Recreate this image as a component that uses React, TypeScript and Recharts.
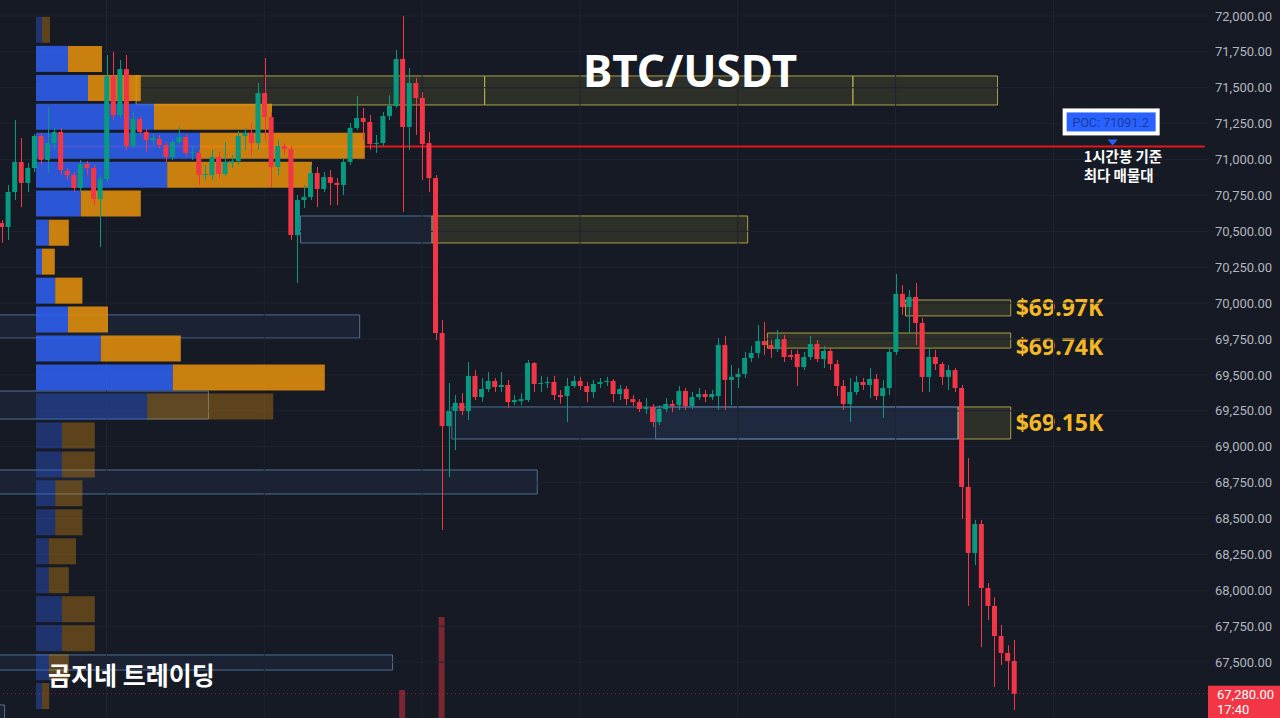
import React from 'react';
import {
  ComposedChart,
  Bar,
  Cell,
  XAxis,
  YAxis,
  ReferenceArea,
  ReferenceLine,
  ReferenceDot,
} from 'recharts';

// BTC/USDT candles, [open, high, low, close]
const RALLY = [
  [70558, 70579, 70419, 70530], [70530, 70823, 70440, 70774], [70774, 71275, 70718, 70983], [70983, 71150, 70669, 70837],
  [70837, 70976, 70774, 70941], [70941, 71178, 70913, 71164], [71164, 71185, 70962, 70997], [70997, 71366, 70906, 71115],
  [71115, 71220, 71067, 71192], [71192, 71220, 70892, 70927], [70920, 70941, 70858, 70892], [70892, 70913, 70774, 70802],
  [70802, 70997, 70774, 70969], [70969, 70990, 70892, 70941], [70941, 70962, 70683, 70725], [70725, 70892, 70391, 70864],
  [70864, 71728, 70844, 71582], [71582, 71749, 71275, 71310], [71310, 71693, 71289, 71630], [71630, 71728, 71067, 71094],
  [71094, 71331, 71080, 71282], [71282, 71296, 71171, 71192], [71192, 71213, 71053, 71136], [71136, 71178, 71101, 71150],
  [71143, 71171, 71080, 71101], [71101, 71122, 70983, 71018], [71018, 71143, 70997, 71122], [71122, 71227, 71108, 71157],
  [71157, 71171, 71025, 71046], [71046, 71094, 70997, 71053], [71046, 71067, 70823, 70892], [70892, 70962, 70858, 70899],
  [70892, 71067, 70858, 71018], [71018, 71053, 70871, 70899], [70899, 71122, 70885, 70983], [70976, 71032, 70941, 70990],
  [70990, 71199, 70962, 71164], [71164, 71220, 71067, 71185], [71185, 71254, 71032, 71115], [71115, 71533, 71067, 71463],
  [71463, 71707, 71136, 71296], [71296, 71331, 70809, 70948], [70948, 71136, 70892, 71094], [71094, 71115, 71032, 71073],
  [71074, 71094, 70440, 70474], [70474, 70753, 70140, 70718], [70718, 70823, 70663, 70739], [70739, 70962, 70718, 70906],
  [70906, 70948, 70669, 70795], [70795, 70913, 70774, 70878], [70878, 70927, 70683, 70837], [70837, 70871, 70683, 70823],
  [70823, 71011, 70753, 70983], [70983, 71254, 70962, 71220], [71220, 71443, 71206, 71289], [71289, 71359, 71136, 71262],
  [71262, 71310, 71067, 71108], [71108, 71171, 71046, 71115], [71115, 71331, 71094, 71303], [71303, 71449, 71275, 71373],
  [71373, 71763, 71359, 71700], [71700, 72000, 70635, 71227], [71227, 71637, 71067, 71533], [71533, 71568, 71171, 71429],
  [71429, 71470, 70858, 71108], [71115, 71192, 70774, 70871], [70871, 70892, 69743, 69792],
];

const RANGE = [
  [69792, 69883, 68420, 69144], [69144, 69444, 68789, 69249], [69249, 69360, 68977, 69305], [69305, 69374, 69221, 69249],
  [69249, 69590, 69186, 69493], [69493, 69534, 69325, 69346], [69346, 69479, 69312, 69402], [69402, 69520, 69381, 69458],
  [69458, 69479, 69381, 69416], [69416, 69520, 69381, 69430], [69430, 69465, 69270, 69311], [69311, 69360, 69290, 69325],
  [69318, 69374, 69290, 69332], [69325, 69604, 69311, 69583], [69583, 69590, 69381, 69437], [69437, 69493, 69381, 69444],
  [69444, 69486, 69409, 69451], [69451, 69493, 69325, 69360], [69360, 69395, 69300, 69346], [69353, 69479, 69172, 69423],
  [69423, 69493, 69409, 69458], [69458, 69486, 69395, 69423], [69423, 69451, 69311, 69381], [69381, 69465, 69339, 69437],
  [69437, 69479, 69409, 69451], [69451, 69486, 69423, 69458], [69458, 69472, 69311, 69367], [69367, 69430, 69325, 69402],
  [69402, 69423, 69290, 69332], [69332, 69360, 69284, 69311], [69311, 69332, 69242, 69263], [69263, 69339, 69228, 69277],
  [69277, 69298, 69137, 69172], [69172, 69290, 69151, 69263], [69263, 69339, 69242, 69298], [69298, 69325, 69242, 69284],
  [69291, 69423, 69256, 69388], [69388, 69409, 69256, 69284], [69284, 69381, 69263, 69346], [69346, 69409, 69325, 69367],
  [69367, 69395, 69311, 69346], [69346, 69395, 69325, 69367], [69353, 69757, 69256, 69708],
];

const RETEST = [
  [69708, 69771, 69256, 69465], [69465, 69569, 69290, 69486], [69486, 69548, 69409, 69507], [69507, 69660, 69479, 69618],
  [69618, 69701, 69590, 69653], [69653, 69848, 69618, 69736], [69736, 69869, 69639, 69708], [69708, 69743, 69618, 69680],
  [69680, 69813, 69660, 69750], [69750, 69778, 69590, 69625], [69639, 69674, 69604, 69625], [69646, 69674, 69423, 69555],
  [69555, 69660, 69534, 69625], [69625, 69771, 69604, 69715], [69715, 69743, 69590, 69611], [69611, 69701, 69548, 69667],
  [69667, 69688, 69534, 69576], [69576, 69604, 69353, 69423], [69423, 69465, 69256, 69298], [69298, 69479, 69172, 69381],
  [69381, 69493, 69360, 69451], [69451, 69479, 69395, 69430], [69430, 69548, 69339, 69472], [69472, 69507, 69325, 69353],
  [69353, 69465, 69200, 69409], [69409, 69688, 69360, 69660], [69660, 70203, 69639, 70064], [70064, 70126, 69918, 69973],
  [69973, 70092, 69792, 70043], [70043, 70140, 69708, 69862], [69862, 69897, 69381, 69486], [69486, 69688, 69381, 69625],
  [69625, 69674, 69534, 69576], [69576, 69590, 69430, 69486], [69486, 69569, 69395, 69534], [69534, 69548, 69381, 69409],
  [69409, 69430, 68497, 68720],
];

const SELLOFF = [
  [68720, 68922, 67891, 68260], [68260, 68490, 68176, 68462], [68462, 68490, 67605, 68016], [68016, 68051, 67793, 67891],
  [67891, 67953, 67327, 67682], [67682, 67759, 67480, 67564], [67564, 67619, 67306, 67508], [67508, 67654, 67167, 67280],
];

// only the two volume bars that reach into view
const VOLUME = [
  { t: 61, v: 390 },
  { t: 67, v: 1407 },
];

const SLOTS = 184;
const PRICE_DOMAIN = [67111, 72111];
const TICKS = [
  67500, 67750, 68000, 68250, 68500, 68750, 69000, 69250, 69500, 69750,
  70000, 70250, 70500, 70750, 71000, 71250, 71500, 71750, 72000,
];
const TIME_GRID = [16, 40, 64, 88, 112, 136, 160];
const POC = 71091.2;
const POC_AT = 169;
const LAST_PRICE = 67280;
const LAST_TIME = '17:40';

// volume profile rows (price centre, buy, sell)
const PROFILE_PRICE = [
  71900, 71698, 71496, 71295, 71093, 70891, 70690, 70488, 70286, 70084, 69883, 69681,
  69479, 69278, 69076, 68874, 68673, 68471, 68269, 68067, 67866, 67664, 67462, 67261,
];
const PROFILE_BUY = [15, 80, 130, 295, 410, 328, 112, 32, 15, 48, 80, 162, 342, 278, 65, 65, 48, 48, 32, 32, 65, 65, 32, 15];
const PROFILE_SELL = [20, 85, 132, 295, 412, 362, 150, 50, 32, 68, 100, 200, 380, 315, 82, 82, 68, 68, 68, 50, 82, 82, 50, 18];
const VALUE_AREA = { high: 71800, low: 69380 };

// supply / demand boxes
const ZONES = [
  { x1: 21, x2: 73, top: 71582, bottom: 71380, kind: 'y' },
  { x1: 74, x2: 129, top: 71582, bottom: 71380, kind: 'y' },
  { x1: 130, x2: 151, top: 71582, bottom: 71380, kind: 'y' },
  { x1: 46, x2: 65, top: 70607, bottom: 70419, kind: 'b' },
  { x1: 66, x2: 113, top: 70607, bottom: 70419, kind: 'y' },
  { x1: 0, x2: 54, top: 69918, bottom: 69757, kind: 'b' },
  { x1: 0, x2: 31, top: 69388, bottom: 69193, kind: 'b' },
  { x1: 0, x2: 81, top: 68838, bottom: 68671, kind: 'b' },
  { x1: 0, x2: 59, top: 67550, bottom: 67445, kind: 'b' },
  { x1: 0, x2: 0, top: 67202, bottom: 67100, kind: 'b' },
  { x1: 69, x2: 145, top: 69277, bottom: 69054, kind: 'b' },
  { x1: 100, x2: 145, top: 69277, bottom: 69054, kind: 'b' },
  { x1: 138, x2: 153, top: 70022, bottom: 69911, kind: 'y', label: '$69.97K', dy: 0 },
  { x1: 117, x2: 153, top: 69792, bottom: 69687, kind: 'y', label: '$69.74K', dy: 6 },
  { x1: 146, x2: 153, top: 69277, bottom: 69054, kind: 'y', label: '$69.15K', dy: 0 },
];

const BG = '#161a25';
const GRID = '#1f2431';
const UP = '#089981';
const DOWN = '#f23645';
const GOLD = '#f5b825';

const candles = [...RALLY, ...RANGE, ...RETEST, ...SELLOFF];
const data = Array.from({ length: SLOTS }, (_, t) => {
  const row: any = { t };
  const k = candles[t];
  if (k) {
    const [o, h, l, c] = k;
    Object.assign(row, { o, h, l, c, range: [l, h] });
  }
  const v = VOLUME.find((d) => d.t === t);
  if (v) row.vol = v.v;
  return row;
});

const profile = PROFILE_PRICE.map((price, i) => ({
  price,
  buy: PROFILE_BUY[i],
  sell: PROFILE_SELL[i],
  dim: price > VALUE_AREA.high || price < VALUE_AREA.low,
}));

const fmt = (v: number) => v.toLocaleString('en-US', { minimumFractionDigits: 2, maximumFractionDigits: 2 });

const Candle = (props: any) => {
  const { x, y, width, height, payload } = props;
  if (!payload || payload.o == null) return null;
  const { o, h, l, c } = payload;
  const top = Math.min(y, y + height);
  const span = Math.abs(height);
  const k = span / (h - l);
  const yo = top + (h - o) * k;
  const yc = top + (h - c) * k;
  const color = c >= o ? UP : DOWN;
  const cx = Math.round(x + width / 2) + 0.5;
  return (
    <g>
      <line x1={cx} x2={cx} y1={top} y2={top + span} stroke={color} strokeWidth={1} />
      <rect x={x} y={Math.min(yo, yc)} width={width} height={Math.max(Math.abs(yc - yo), 1)} fill={color} />
    </g>
  );
};

const ZoneLabel = ({ viewBox, text, dy }: any) => {
  if (!viewBox) return null;
  return (
    <text
      x={viewBox.x + viewBox.width + 5}
      y={viewBox.y + viewBox.height / 2 + dy + 8}
      fill={GOLD}
      fontSize={23}
      fontWeight={700}
      fontFamily="'Noto Sans', sans-serif"
    >
      {text}
    </text>
  );
};

const PocTag = ({ cx, cy }: any) => (
  <g>
    <rect x={cx - 50} y={cy - 38} width={97} height={27} fill="#ffffff" />
    <rect x={cx - 46} y={cy - 34} width={89} height={19} fill="#2962ff" />
    <text x={cx - 2} y={cy - 19} textAnchor="middle" fontSize={12.5} fill="#1a3c9c" fontFamily="Roboto, sans-serif">
      POC: 71091.2
    </text>
    <path d={`M${cx - 5},${cy - 7} L${cx + 5},${cy - 7} L${cx},${cy - 1} Z`} fill="#2962ff" />
    <text x={cx - 29} y={cy + 16} fontSize={14.5} fontWeight={700} fill="#ffffff" fontFamily="'Noto Sans CJK KR', sans-serif">
      1시간봉 기준
    </text>
    <text x={cx - 29} y={cy + 35} fontSize={14.5} fontWeight={700} fill="#ffffff" fontFamily="'Noto Sans CJK KR', sans-serif">
      최다 매물대
    </text>
  </g>
);

const PriceTag = ({ viewBox }: any) => {
  if (!viewBox) return null;
  const x = viewBox.x + viewBox.width;
  const y = viewBox.y;
  return (
    <g>
      <rect x={x} y={y - 8} width={72} height={40} fill={DOWN} />
      <text x={x + 9} y={y + 5} fontSize={13} fill="#ffffff" fontFamily="Roboto, sans-serif">{fmt(LAST_PRICE)}</text>
      <text x={x + 9} y={y + 20} fontSize={13} fill="#ffffff" fontFamily="Roboto, sans-serif">{LAST_TIME}</text>
    </g>
  );
};

const layer: React.CSSProperties = { position: 'absolute', left: -2, top: 0 };

export default function App() {
  return (
    <div style={{ position: 'fixed', left: 0, top: 0, width: 1280, height: 718, overflow: 'hidden', background: BG }}>
      {/* grid, zones, POC line, volume */}
      <div style={layer}>
        <ComposedChart width={1282} height={718} data={data} margin={{ top: 0, right: 0, bottom: 0, left: 0 }}>
          <XAxis dataKey="t" type="category" hide />
          <YAxis orientation="right" width={72} type="number" domain={PRICE_DOMAIN} allowDataOverflow ticks={TICKS} tick={false} axisLine={false} tickLine={false} />
          <YAxis yAxisId="vol" hide type="number" domain={[0, 10000]} />
          {TICKS.map((v) => (
            <ReferenceLine key={`h${v}`} y={v} stroke={GRID} strokeWidth={1} />
          ))}
          {TIME_GRID.map((t) => (
            <ReferenceLine key={`v${t}`} x={t} stroke={GRID} strokeWidth={1} />
          ))}
          {ZONES.map((z, i) => (
            <ReferenceArea
              key={`z${i}`}
              x1={z.x1}
              x2={z.x2}
              y1={z.bottom}
              y2={z.top}
              fill={z.kind === 'y' ? '#c8be46' : '#466eb4'}
              fillOpacity={z.kind === 'y' ? 0.13 : 0.1}
              stroke={z.kind === 'y' ? '#b8ad48' : '#56789e'}
              strokeOpacity={0.9}
              strokeWidth={1}
              ifOverflow="visible"
              label={z.label ? (p: any) => <ZoneLabel viewBox={p.viewBox} text={z.label} dy={z.dy} /> : undefined}
            />
          ))}
          <ReferenceLine segment={[{ x: 7, y: POC }, { x: SLOTS - 1, y: POC }]} stroke="#e3161c" strokeWidth={2} />
          <Bar yAxisId="vol" dataKey="vol" barSize={6} fill="#f23645" fillOpacity={0.45} isAnimationActive={false} />
        </ComposedChart>
      </div>

      {/* volume profile */}
      <div style={{ position: 'absolute', left: 0, top: 0 }}>
        <ComposedChart layout="vertical" width={1208} height={718} data={profile} margin={{ top: 0, right: 0, bottom: 0, left: 36 }}>
          <XAxis type="number" domain={[0, 2930]} hide />
          <YAxis type="number" dataKey="price" domain={PRICE_DOMAIN} allowDataOverflow reversed hide />
          <Bar dataKey="buy" stackId="p" barSize={26} fill="#2e62f5" isAnimationActive={false}>
            {profile.map((r, i) => (
              <Cell key={`b${i}`} fill="#2e62f5" fillOpacity={r.dim ? 0.36 : 0.86} />
            ))}
          </Bar>
          <Bar dataKey="sell" stackId="p" barSize={26} fill="#e7920a" isAnimationActive={false}>
            {profile.map((r, i) => (
              <Cell key={`s${i}`} fill="#e7920a" fillOpacity={r.dim ? 0.34 : 0.86} />
            ))}
          </Bar>
        </ComposedChart>
      </div>

      {/* candles, axis, tags */}
      <div style={layer}>
        <ComposedChart width={1282} height={718} data={data} margin={{ top: 0, right: 0, bottom: 0, left: 0 }}>
          <XAxis dataKey="t" type="category" hide />
          <YAxis
            orientation="right"
            width={72}
            type="number"
            domain={PRICE_DOMAIN}
            allowDataOverflow
            ticks={TICKS}
            tickFormatter={fmt}
            tick={{ fill: '#b2b5be', fontSize: 13, fontFamily: 'Roboto, sans-serif' }}
            axisLine={false}
            tickLine={false}
            tickSize={0}
            tickMargin={7}
          />
          <ReferenceLine
            y={LAST_PRICE}
            stroke={DOWN}
            strokeOpacity={0.55}
            strokeDasharray="1 3"
            label={(p: any) => <PriceTag viewBox={p.viewBox} />}
          />
          <Bar dataKey="range" barSize={5} shape={(p: any) => <Candle {...p} />} isAnimationActive={false} />
          <ReferenceDot x={POC_AT} y={POC} r={0} shape={(p: any) => <PocTag {...p} />} />
        </ComposedChart>
      </div>

      <svg width={1280} height={718} style={{ position: 'absolute', left: 0, top: 0, pointerEvents: 'none' }}>
        <text x={690} y={87} textAnchor="middle" fill="#ffffff" fontSize={44} fontWeight={700} fontFamily="'Noto Sans', sans-serif">
          BTC/USDT
        </text>
        <text x={48} y={685} fill="#ffffff" fontSize={25} fontWeight={700} fontFamily="'Noto Sans CJK KR', sans-serif">
          곰지네 트레이딩
        </text>
      </svg>
    </div>
  );
}
